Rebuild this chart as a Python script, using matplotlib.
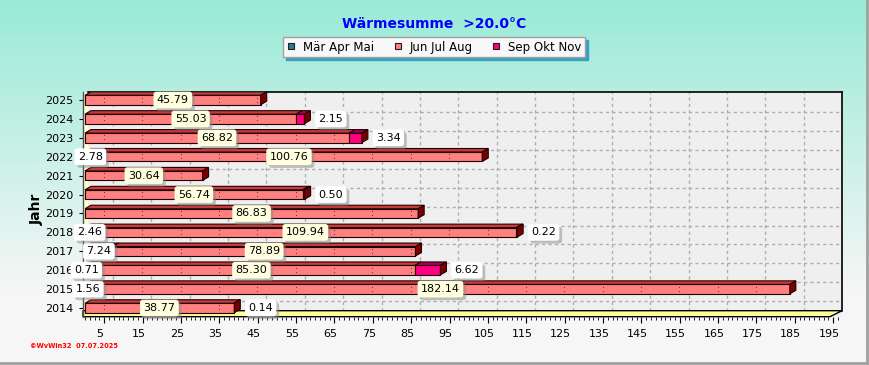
import numpy as np
import matplotlib
matplotlib.use("Agg")
import matplotlib.pyplot as plt
from matplotlib.patches import Polygon, Rectangle
from matplotlib.lines import Line2D
from matplotlib.ticker import MultipleLocator
import matplotlib.transforms as mtransforms
import matplotlib.patheffects as pe

# ---------------- data ----------------
years = ['2014', '2015', '2016', '2017', '2018', '2019', '2020', '2021', '2022', '2023', '2024', '2025']
mar_apr_mai = [0, 1.56, 0.71, 7.24, 2.46, 0, 0, 0, 2.78, 0, 0, 0]
jun_jul_aug = [38.77, 182.14, 85.30, 78.89, 109.94, 86.83, 56.74, 30.64, 100.76, 68.82, 55.03, 45.79]
sep_okt_nov = [0.14, 0, 6.62, 0, 0.22, 0, 0.50, 0, 0, 3.34, 2.15, 0]
series_names = ['Mär Apr Mai', 'Jun Jul Aug', 'Sep Okt Nov']
x_tick_values = list(range(5, 200, 10))
title_text = 'Wärmesumme  >20.0°C'
y_label = 'Jahr'
watermark = '©WvWin32  07.07.2025'

# ---------------- style ----------------
W, H = 869, 365
front_colors = ['#2B7A96', '#FF8080', '#FF0080']
top_colors = ['#1C5A70', '#C63C3C', '#A8005A']
side_color = '#7A0000'
label_faces = ['#FFFFFF', '#FFFFE0', '#FFFFFF']

fig = plt.figure(figsize=(W / 100, H / 100), dpi=100)

# background gradient
bg = fig.add_axes([0, 0, 1, 1], zorder=-10)
top_c = np.array([0.60, 0.92, 0.84])
bot_c = np.array([0.965, 0.965, 0.965])
t = np.clip(np.linspace(0, 1, 200) * 1.25, 0, 1)[:, None]
grad = top_c * (1 - t) + bot_c * t
bg.imshow(grad[:, None, :], aspect='auto', extent=[0, 1, 0, 1], origin='upper')
bg.set_axis_off()

# main axes (pixel geometry)
ax_l, ax_r, ax_t, ax_b = 83, 842, 92, 316.7
ax = fig.add_axes([ax_l / W, 1 - ax_b / H, (ax_r - ax_l) / W, (ax_b - ax_t) / H])
ppx = 3.837          # pixels per unit on x
ppy = 18.9           # pixels per row on y
zero_px = 85
xmin = -(zero_px - ax_l) / ppx
xmax = (ax_r - zero_px) / ppx
ymin = -(ax_b - 308) / ppy
ymax = 11 + (100 - ax_t) / ppy
ax.set_xlim(xmin, xmax)
ax.set_ylim(ymin, ymax)
ax.set_facecolor('#EFEFEF')
for s in ax.spines.values():
    s.set_visible(False)

dx = 6 / ppx
dy = 3.5 / ppy
floor_top = ymin + 6 / ppy

# grid (back wall)
for gx in np.arange(7.3, xmax, 10):
    ax.plot([gx, gx], [floor_top, ymax], color='#AEAEAE', lw=1, dashes=(2.3, 2.3), zorder=1)
for gy in np.arange(0.36, 11, 1.0):
    ax.plot([0.8, xmax], [gy, gy], color='#AEAEAE', lw=1, dashes=(2.3, 2.3), zorder=1)

# left wall and floor
ax.add_patch(Rectangle((xmin, floor_top), 0.8 - xmin, ymax - floor_top,
                       facecolor='#FFFFCC', edgecolor='none', zorder=1.2))
floor_front_r = (830 - zero_px) / ppx
ax.add_patch(Polygon([(xmin, ymin), (floor_front_r, ymin), (xmax, floor_top), (xmin, floor_top)],
                     closed=True, facecolor='#FFFF99', edgecolor='black', lw=1, zorder=1.5,
                     clip_on=False))
ax.plot([xmin, xmin], [ymin, ymax], color='#505050', lw=1, zorder=1.6, clip_on=False)
ax.plot([0.8, xmax], [ymax, ymax], color='black', lw=1.2, zorder=1.6, clip_on=False)
ax.plot([xmax, xmax], [floor_top, ymax], color='black', lw=1.2, zorder=1.6, clip_on=False)

# bars
ypos = np.arange(len(years))
bh = 0.5
series = [mar_apr_mai, jun_jul_aug, sep_okt_nov]
lefts = np.zeros(len(years))
for si, vals in enumerate(series):
    vals = np.array(vals, dtype=float)
    ax.barh(ypos, vals, left=lefts, height=bh, color=front_colors[si],
            edgecolor='#200000', lw=0.8, zorder=3)
    for i in range(len(years)):
        if vals[i] <= 0:
            continue
        l, r = lefts[i], lefts[i] + vals[i]
        yt = ypos[i] + bh / 2
        ax.add_patch(Polygon([(l, yt), (r, yt), (r + dx, yt + dy), (l + dx, yt + dy)], closed=True,
                             facecolor=top_colors[si], edgecolor='#200000', lw=0.8, zorder=3))
    lefts = lefts + vals
totals = lefts

shadow_fx = [pe.SimplePatchShadow(offset=(2, -2), shadow_rgbFace='#8A8A8A', alpha=0.5), pe.Normal()]


def draw_label(x, y, text, face, ha='center', off_px=0.0):
    k = 72 / 100
    a = ax.annotate(text, xy=(x, y), xytext=(off_px * k, 0), textcoords='offset points',
                    ha=ha, va='center', fontsize=8, color='black', zorder=6, annotation_clip=False,
                    bbox=dict(boxstyle='round,pad=0.3,rounding_size=0.25', fc=face, ec='none'))
    a.get_bbox_patch().set_path_effects(shadow_fx)


covered = {i: [] for i in range(len(years))}
for i in range(len(years)):
    m, j, s = mar_apr_mai[i], jun_jul_aug[i], sep_okt_nov[i]
    if m > 0:
        txt = f'{m:.2f}'
        draw_label(m / 2, ypos[i], txt, label_faces[0])
        half = (len(txt) * 6.6 + 8) / 2 / ppx
        covered[i].append((m / 2 - half, m / 2 + half))
    if j > 0:
        txt = f'{j:.2f}'
        c = m + j / 2
        draw_label(c, ypos[i], txt, label_faces[1])
        half = (len(txt) * 6.6 + 8) / 2 / ppx
        covered[i].append((c - half, c + half))
    if s > 0:
        draw_label(m + j + s, ypos[i], f'{s:.2f}', label_faces[2], ha='left', off_px=14)

# side faces and the dotted marks inside the bars
for i in range(len(years)):
    e = totals[i]
    y0, y1 = ypos[i] - bh / 2, ypos[i] + bh / 2
    ax.add_patch(Polygon([(e, y0), (e, y1), (e + dx, y1 + dy), (e + dx, y0 + dy)], closed=True,
                         facecolor=side_color, edgecolor='#200000', lw=0.8, zorder=3))
    for cx in x_tick_values:
        if not (0.3 < cx < e - 0.3):
            continue
        if any(a - 0.5 < cx < b + 0.5 for a, b in covered[i]):
            continue
        ax.text(cx, ypos[i], ':', ha='center', va='center', fontsize=6, zorder=4)

# ticks
ax.set_yticks(ypos)
ax.set_yticklabels(years, fontsize=8)
ax.tick_params(axis='y', length=3, pad=4, width=0.8)
ax.set_xticks(x_tick_values)
ax.set_xticklabels([str(v) for v in x_tick_values], fontsize=8)
ax.xaxis.set_minor_locator(MultipleLocator(1.25))
ax.tick_params(axis='x', which='major', length=4, pad=5, width=0.8)
ax.tick_params(axis='x', which='minor', length=2, width=0.6)
shift = mtransforms.ScaledTranslation(-4 / 100, 0, fig.dpi_scale_trans)
for lab in ax.get_xticklabels():
    lab.set_transform(lab.get_transform() + shift)

# texts
fig.text(434 / W, 1 - 24 / H, title_text, color='#0000FF', fontweight='bold', fontsize=10,
         ha='center', va='center')
fig.text(37 / W, 1 - 209 / H, y_label, rotation=90, fontweight='bold', fontsize=10,
         ha='center', va='center')
fig.text(30 / W, 1 - 346 / H, watermark, color='red', fontweight='bold', fontsize=4.8, va='center')

# legend
handles = [Line2D([], [], marker='s', ls='none', markersize=5, markerfacecolor=c,
                  markeredgecolor='#202020', markeredgewidth=0.8) for c in front_colors]
fig.legend(handles, series_names, loc='center', bbox_to_anchor=(434 / W, 1 - 47 / H), ncol=3,
           frameon=True, fancybox=False, edgecolor='#A0A0A0', facecolor='#F8F8F8', framealpha=1,
           shadow={'color': '#3AA0C0', 'alpha': 1}, fontsize=8.5, handlelength=0.8,
           handletextpad=0.6, columnspacing=1.6, borderpad=0.3)

# figure border
fig.add_artist(Line2D([0, 1], [1 - 362.5 / H, 1 - 362.5 / H], transform=fig.transFigure, color='#A0A0A0', lw=2))
fig.add_artist(Line2D([1 - 2.5 / W, 1 - 2.5 / W], [0, 1], transform=fig.transFigure, color='#A0A0A0', lw=2))

fig.savefig('out.png', dpi=100)
